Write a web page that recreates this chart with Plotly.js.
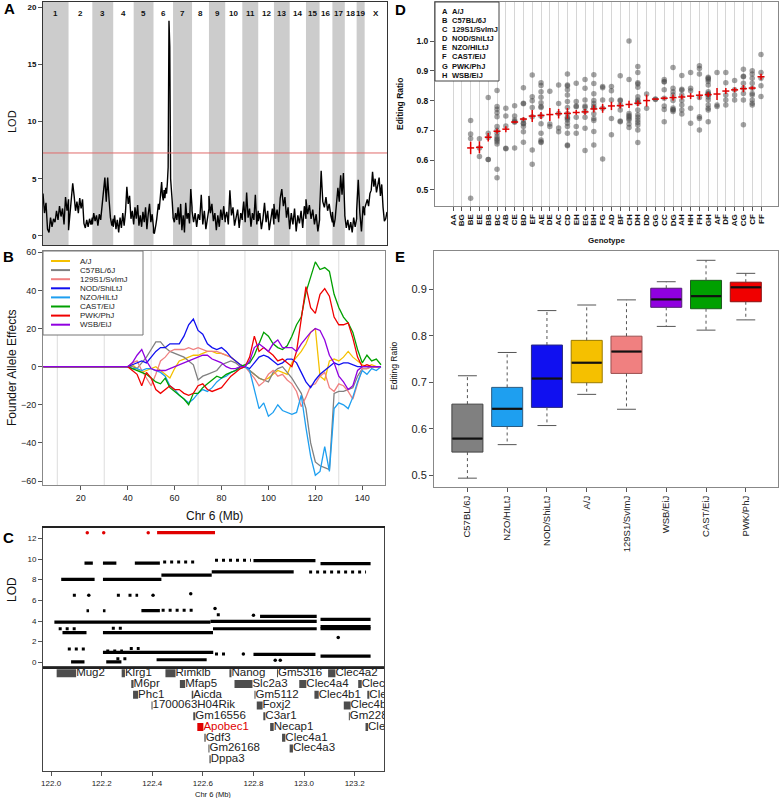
<!DOCTYPE html>
<html>
<head>
<meta charset="utf-8">
<script src="https://cdn.plot.ly/plotly-3.0.1.min.js"></script>
<style>
  html, body { margin: 0; padding: 0; background: #fff; }
  #fig { width: 780px; height: 798px; }
</style>
</head>
<body>
<div id="fig"></div>
<script>
// ---- A: genome scan ----
let chromosomes = ['1', '2', '3', '4', '5', '6', '7', '8', '9', '10', '11', '12', '13', '14', '15', '16', '17', '18', '19', 'X'];
let chrLengthMb = [195.5, 182.1, 160.0, 156.5, 151.8, 149.7, 145.4, 129.4, 124.6, 130.7, 122.1, 120.1, 120.4, 124.9, 104.0, 98.2, 95.0, 90.7, 61.4, 171.0];
let genomeLod = [
    [3.7, 2.0, 2.9, 0.6, 0.3, 1.6, 0.8, 1.5, 1.2, 2.2, 1.4, 2.6, 1.7, 2.4, 1.0, 3.4, 2.2, 3.2],
    [0.5, 2.0, 3.0, 4.6, 3.5, 2.2, 3.0, 2.0, 3.3, 2.4, 3.2, 1.1, 0.7, 1.4, 0.8, 1.5, 1.0, 1.6],
    [1.0, 2.0, 1.3, 1.8, 0.9, 1.9, 1.4, 2.6, 3.5, 5.1, 3.0, 5.1, 3.2, 1.6, 0.9, 1.5],
    [0.8, 1.8, 0.6, 1.4, 0.3, 1.6, 0.7, 2.0, 0.9, 2.1, 4.3, 2.8, 3.5, 1.5, 2.2, 1.4],
    [1.0, 2.5, 1.5, 2.7, 0.9, 1.8, 0.8, 2.1, 1.2, 2.5, 0.6, 1.9, 2.8, 1.2, 1.9, 0.7],
    [0.3, 0.2, 0.5, 1.0, 1.5, 2.2, 2.8, 2.3, 3.4, 3.8, 4.7, 3.5, 3.1, 4.0, 3.3, 4.2, 3.7, 4.6, 6.0, 18.8, 16.5, 5.0, 4.2, 3.0, 1.8],
    [1.6, 1.2, 2.0, 1.4, 2.5, 1.0, 2.8, 0.5, 1.8, 0.3, 2.9, 1.5, 2.0, 1.1, 4.1, 2.5],
    [2.2, 1.2, 2.0, 0.8, 1.9, 1.4, 3.6, 1.0, 2.2, 0.6, 1.6, 2.4],
    [3.5, 2.0, 2.8, 1.3, 2.0, 0.5, 1.8, 0.8, 2.3, 1.4, 2.6, 1.2],
    [1.5, 2.1, 1.0, 4.0, 1.8, 2.5, 0.9, 1.6, 2.3, 0.7, 2.0, 1.4],
    [1.8, 3.0, 1.2, 3.8, 1.6, 2.4, 0.8, 2.0, 1.4, 3.6, 1.0, 2.2],
    [1.3, 2.0, 0.6, 1.5, 2.9, 1.2, 2.2, 0.5, 1.7, 2.4, 1.0],
    [2.8, 1.5, 2.3, 1.2, 3.3, 4.1, 2.6, 3.4, 1.6, 2.5, 1.0],
    [0.6, 2.0, 1.0, 2.4, 0.4, 1.8, 1.1, 2.2, 0.7, 2.6, 1.5],
    [3.2, 1.9, 2.7, 1.5, 2.3, 1.0, 1.9, 0.4, 1.4],
    [2.0, 5.7, 3.0, 2.5, 3.4, 2.2, 2.8, 1.8, 1.2],
    [2.1, 0.8, 1.5, 2.6, 4.2, 3.0, 5.3, 3.6, 5.5, 2.0],
    [1.8, 0.7, 1.4, 0.5, 1.2, 0.3, 1.6, 0.8, 1.5],
    [2.2, 4.9, 2.0, 0.4, 2.6, 1.8],
    [2.4, 2.9, 3.2, 2.6, 3.7, 4.0, 5.6, 4.3, 5.0, 3.8, 4.7, 5.1, 3.5, 4.5, 2.5, 1.3, 1.5, 2.1]
];
let lodThreshold = 7.25;

// ---- B: founder allele effects on chr 6 ----
let founders = ['A/J', 'C57BL/6J', '129S1/SvImJ', 'NOD/ShiLtJ', 'NZO/HILtJ', 'CAST/EiJ', 'PWK/PhJ', 'WSB/EiJ'];
let effectMb = [4, 38, 40, 42, 44, 46, 48, 50, 52, 54, 56, 58, 60, 62, 64, 66, 68, 70, 72, 74, 76, 78, 80, 82, 84, 86, 88, 90, 92, 94, 96, 98,
    100, 102, 104, 106, 108, 110, 112, 114, 116, 118, 120, 122, 124, 126, 128, 130, 132, 134, 136, 138, 140, 142, 144, 146, 148];
let effectAJ = [0, 0, 0, 1, -1, -3, -2, -1, 0, -2, -4, -6, -1, 3, 4, 5, 6, 6, 7, 8, 8, 7, 7, 6, 5, 3, 1, 0, -2, -4, -6, -7,
    -6, -4, -2, -3, -4, 2, 5, 8, 12, 18, 20, -5, -7, 3, 4, 3, 5, 8, 5, 3, 1, 0, 1, 0, 0];
let effectB6 = [0, 0, 0, 0, -1, 2, 5, 9, 13, 13, 10, 8, 7, 6, 5, 3, 1, -7, -5, -4, -3, -2, 1, 2, 3, 2, 0, 0, -2, -4, -6, -7,
    -8, -3, -1, 0, -3, -6, -10, -14, -22, -40, -50, -52, -53, -54, -14, -13, -13, -12, -11, -5, -1, -1, 0, 0, 0];
let effect129 = [0, 0, 0, 2, 3, -2, -6, -10, -4, 3, 5, 8, 9, 9, 9, 10, 9, 10, 9, 8, 8, 8, 7, 6, 5, 3, 1, 0, -3, -6, -10, -8,
    -4, -2, -5, -4, -7, -9, -13, -21, -16, -10, -9, -5, -3, -11, -13, -9, -10, -13, -17, -9, -1, -1, 0, 0, 0];
let effectNOD = [0, 0, 0, 1, 2, 3, 2, 5, 8, 10, 10, 12, 12, 12, 16, 22, 25, 19, 17, 12, 10, 9, 10, 8, 5, 3, 1, 0, -1, 2, 5, 6,
    5, 3, 1, 2, 4, 4, 2, -3, -8, -11, -7, -4, -2, 0, 2, 1, 2, 2, 1, 0, 0, 0, 0, 0, 0];
let effectNZO = [0, 0, 0, -1, -1, -2, -1, -1, -2, -3, -5, -10, -12, -15, -17, -19, -17, -14, -12, -13, -11, -8, -6, -5, -3, -2, -1, 0, -2, -12, -22, -19,
    -26, -24, -20, -23, -24, -25, -24, -15, -32, -47, -57, -55, -42, -55, -22, -19, -20, -22, -16, -8, -2, -4, -1, -2, 0];
let effectCAST = [0, 0, 0, -1, -2, -3, -4, -6, -8, -9, -6, -11, -13, -15, -17, -20, -14, -14, -11, -9, -7, -5, -6, -4, -3, -2, 0, 1, 2, 6, 12, 18,
    16, 12, 10, 9, 11, 16, 22, 26, 39, 47, 55, 51, 52, 50, 38, 31, 26, 23, 18, 9, 2, 6, 3, 4, 1];
let effectPWK = [0, 0, 0, -2, -4, -10, -3, -6, -12, -14, -12, -10, -12, -12, -14, -15, -14, -10, -9, -12, -13, -12, -11, -8, -5, -3, -1, 0, 5, 16, 8, 10,
    8, 6, 3, 4, 2, 0, 8, 25, 42, 31, 28, 38, 41, 37, 26, 22, 22, 23, 15, 5, 0, 1, 0, 0, 0];
let effectWSB = [0, 0, 0, 2, 6, 9, 3, -1, -2, -2, -2, -1, 0, 1, 2, 3, 4, 5, 6, 6, 4, 3, 2, 0, -1, -1, 0, 0, 3, 10, 12, 10,
    8, 12, 14, 10, 10, 10, 8, 12, 15, 18, 20, 19, 14, 6, 2, -5, -8, -12, -10, -2, 0, 0, 0, 0, 0];
let effectGridMb = [10, 30, 50, 70, 90, 110, 130];

// ---- C: SNP association and genes near the peak ----
// [start Mb, end Mb, LOD]
let peakRuns = [[122.419, 122.648, 12.55]];
let peakDots = [[122.143, 12.55], [122.208, 12.55], [122.384, 12.55]];
let denseRuns = [
    [122.040, 122.172, 8.03], [122.205, 122.436, 8.03], [122.436, 122.635, 8.45], [122.635, 122.959, 8.75],
    [122.132, 122.165, 9.6], [122.205, 122.258, 9.6], [122.331, 122.430, 9.6], [122.800, 123.045, 9.85], [123.065, 123.263, 9.55],
    [122.013, 122.630, 3.9], [122.630, 123.050, 3.97], [123.065, 123.263, 4.15],
    [122.045, 122.140, 2.87], [122.205, 122.640, 2.87], [122.640, 123.050, 3.25], [123.065, 123.263, 3.45], [123.065, 123.263, 3.25],
    [122.826, 123.050, 4.45], [122.357, 122.430, 5.0],
    [122.205, 122.641, 0.97], [122.800, 123.045, 0.78], [123.065, 123.263, 0.6],
    [122.417, 122.615, 0.25], [122.079, 122.132, 0.05], [122.218, 122.278, 0.05]
];
let sparseRuns = [
    [122.443, 122.575, 9.7], [122.648, 122.790, 9.88], [123.020, 123.245, 8.75],
    [122.086, 122.105, 6.5], [122.260, 122.278, 6.5], [122.306, 122.344, 6.5],
    [122.437, 122.562, 5.05], [122.140, 122.150, 5.0], [122.205, 122.215, 5.0], [122.655, 122.680, 4.6],
    [122.066, 122.139, 1.3], [122.218, 122.284, 1.1], [122.311, 122.350, 1.35], [122.648, 122.700, 0.8],
    [122.258, 122.311, 0.35], [122.030, 122.110, 3.25], [122.240, 122.285, 3.3]
];
let lodDots = [[122.149, 6.5], [122.403, 6.5], [122.552, 6.65], [122.648, 5.2], [122.800, 4.55], [123.135, 2.4], [122.886, 0.2], [122.906, 0.2], [122.760, 0.8]];

let geneNames = ['Mug2', 'Klrg1', 'Rimklb', 'Nanog', 'Gm5316', 'Clec4a2', 'M6pr', 'Mfap5', 'Slc2a3', 'Clec4a4', 'Clec4n',
    'Phc1', 'Aicda', 'Gm5112', 'Clec4b1', 'Clec4d', '1700063H04Rik', 'Foxj2', 'Clec4b2', 'Gm16556', 'C3ar1', 'Gm22899',
    'Apobec1', 'Necap1', 'Clec4e', 'Gdf3', 'Clec4a1', 'Gm26168', 'Clec4a3', 'Dppa3'];
let geneStart = [122.022, 122.279, 122.452, 122.705, 122.893, 123.095, 122.317, 122.509, 122.725, 122.981, 123.214,
    122.324, 122.556, 122.804, 123.041, 123.250, 122.397, 122.813, 123.157, 122.562, 122.839, 123.177,
    122.578, 122.866, 123.243, 122.606, 122.913, 122.622, 122.943, 122.626];
let geneEnd = [122.099, 122.292, 122.492, 122.713, 122.897, 123.124, 122.326, 122.530, 122.796, 123.009, 123.228,
    122.344, 122.562, 122.808, 123.058, 123.258, 122.401, 122.836, 123.184, 122.570, 122.847, 123.181,
    122.602, 122.880, 123.253, 122.611, 122.926, 122.626, 122.956, 122.631];
let geneRow = [0, 0, 0, 0, 0, 0, 1, 1, 1, 1, 1, 2, 2, 2, 2, 2, 3, 3, 3, 4, 4, 4, 5, 5, 5, 6, 6, 7, 7, 8];
let highlightGene = 'Apobec1';

// ---- D: editing ratio by genotype ----
let founderLetters = ['A', 'B', 'C', 'D', 'E', 'F', 'G', 'H'];
let genotypes = ['AA', 'BG', 'BE', 'EE', 'BB', 'BC', 'AB', 'CE', 'BD', 'EF', 'AE', 'DE', 'AC', 'CD', 'EH', 'EG', 'BH', 'FG',
    'AD', 'BF', 'CH', 'DH', 'DD', 'GG', 'CC', 'DG', 'AH', 'HH', 'FH', 'GH', 'AF', 'DF', 'AG', 'CG', 'CF', 'FF'];
let genotypeRatios = [
    [], [],
    [0.733, 0.688, 0.673, 0.472],
    [0.672, 0.641, 0.612],
    [0.810, 0.690, 0.676, 0.602, 0.602],
    [0.834, 0.780, 0.771, 0.759, 0.746, 0.713, 0.700, 0.690, 0.679, 0.672, 0.668, 0.662, 0.654, 0.569, 0.541],
    [0.774, 0.748, 0.715, 0.640, 0.638],
    [0.783, 0.748, 0.735, 0.730, 0.727, 0.641],
    [0.843, 0.791, 0.789, 0.735, 0.724, 0.722, 0.713, 0.695, 0.660],
    [0.886, 0.813, 0.799, 0.777, 0.746, 0.634, 0.586],
    [0.860, 0.851, 0.830, 0.811, 0.793, 0.780, 0.777, 0.748, 0.722, 0.690, 0.668, 0.662, 0.659],
    [0.831, 0.721, 0.713],
    [0.852, 0.790, 0.757, 0.708, 0.695],
    [0.889, 0.852, 0.849, 0.836, 0.819, 0.797, 0.777, 0.757, 0.744, 0.740, 0.735, 0.724, 0.713, 0.690, 0.651, 0.648],
    [0.858, 0.797, 0.782, 0.779, 0.744, 0.713, 0.690],
    [0.871, 0.841, 0.802, 0.782, 0.778, 0.763, 0.744, 0.707, 0.632],
    [0.887, 0.857, 0.823, 0.800, 0.790, 0.780, 0.775, 0.756, 0.740, 0.733, 0.696, 0.651],
    [0.847, 0.843, 0.802, 0.774, 0.604],
    [0.847, 0.833, 0.802, 0.740, 0.685],
    [0.883, 0.802, 0.799, 0.785, 0.768, 0.731, 0.729],
    [1.000, 0.871, 0.757, 0.750, 0.746, 0.740, 0.735, 0.721, 0.710],
    [0.914, 0.894, 0.860, 0.856, 0.845, 0.813, 0.802, 0.798, 0.791, 0.768, 0.752, 0.744, 0.735, 0.726, 0.718, 0.701, 0.659],
    [0.822, 0.774],
    [0.805, 0.804],
    [0.871, 0.864, 0.862, 0.836, 0.808, 0.782, 0.770, 0.729],
    [0.911, 0.841, 0.830, 0.819, 0.800, 0.775, 0.770, 0.768, 0.763],
    [0.884, 0.838, 0.835, 0.819, 0.800, 0.785, 0.768, 0.755],
    [0.894, 0.841, 0.833, 0.774, 0.724],
    [0.917, 0.908, 0.889, 0.810, 0.746, 0.740, 0.701],
    [0.878, 0.875, 0.871, 0.864, 0.852, 0.830, 0.824, 0.821, 0.819, 0.812, 0.802, 0.785, 0.774, 0.768, 0.729],
    [0.894, 0.785, 0.780],
    [0.894, 0.860, 0.819, 0.802, 0.785],
    [0.867, 0.836, 0.819, 0.802],
    [0.905, 0.882, 0.880, 0.858, 0.841, 0.824, 0.802, 0.719],
    [0.900, 0.889, 0.875, 0.858, 0.841, 0.824, 0.819, 0.802, 0.791, 0.785],
    [0.955, 0.894, 0.875, 0.850, 0.814]
];
let genotypeMean = [null, null, 0.641, 0.643, 0.677, 0.697, 0.704, 0.728, 0.738, 0.748, 0.750, 0.753, 0.756, 0.757, 0.760, 0.762,
    0.772, 0.774, 0.782, 0.783, 0.787, 0.791, 0.800, 0.805, 0.808, 0.810, 0.812, 0.815, 0.818, 0.820, 0.822, 0.832, 0.836, 0.840, 0.842, 0.880];
let genotypeSE = [null, null, 0.021, 0.020, 0.014, 0.008, 0.010, 0.004, 0.006, 0.020, 0.012, 0.022, 0.016, 0.018, 0.008, 0.010,
    0.012, 0.015, 0.014, 0.010, 0.012, 0.010, 0.020, 0.002, 0.005, 0.010, 0.008, 0.010, 0.014, 0.008, 0.020, 0.010, 0.008, 0.012, 0.006, 0.010];

// ---- E: editing ratio by founder strain ----
let boxStrains = ['C57BL/6J', 'NZO/HILtJ', 'NOD/ShiLtJ', 'A/J', '129S1/SvImJ', 'WSB/EiJ', 'CAST/EiJ', 'PWK/PhJ'];
let boxLower = [0.494, 0.566, 0.607, 0.674, 0.642, 0.820, 0.812, 0.834];
let boxQ1 = [0.550, 0.605, 0.646, 0.699, 0.719, 0.861, 0.858, 0.873];
let boxMedian = [0.579, 0.643, 0.708, 0.742, 0.766, 0.878, 0.885, 0.904];
let boxQ3 = [0.653, 0.689, 0.780, 0.790, 0.799, 0.902, 0.919, 0.915];
let boxUpper = [0.714, 0.764, 0.854, 0.866, 0.877, 0.916, 0.962, 0.934];

// ---- styles ----
let founderColor = {
    'A/J': '#F5C000', 'C57BL/6J': '#808080', '129S1/SvImJ': '#F08080', 'NOD/ShiLtJ': '#1010F0',
    'NZO/HILtJ': '#1E9FF0', 'CAST/EiJ': '#00A000', 'PWK/PhJ': '#F00000', 'WSB/EiJ': '#9000E0'
};
let founderEdge = {
    'A/J': '#9a7a00', 'C57BL/6J': '#404040', '129S1/SvImJ': '#9a5050', 'NOD/ShiLtJ': '#2a2a80',
    'NZO/HILtJ': '#2a5a80', 'CAST/EiJ': '#1f5a1f', 'PWK/PhJ': '#8a1010', 'WSB/EiJ': '#502070'
};
let font = 'Liberation Sans, Arial, sans-serif';
let W = 780, H = 798;
function px(v) { return v / W; }
function py(v) { return 1 - v / H; }

let traces = [];
let shapes = [];
let annotations = [];

function note(text, x, y, size, opts) {
    annotations.push(Object.assign({
        text: text, x: px(x), y: py(y), xref: 'paper', yref: 'paper', showarrow: false,
        xanchor: 'center', yanchor: 'middle', font: {family: font, size: size, color: '#111'}
    }, opts || {}));
}

// ---- A ----
let ax = [], ay = [], chrStart = [];
let offset = 0;
for (let c = 0; c < chromosomes.length; c++) {
    let vals = genomeLod[c];
    chrStart.push(offset);
    for (let j = 0; j < vals.length; j++) {
        ax.push(offset + chrLengthMb[c] * j / (vals.length - 1));
        ay.push(vals[j]);
    }
    if (c % 2 == 0)
        shapes.push({type: 'rect', xref: 'x', yref: 'y domain', x0: offset, x1: offset + chrLengthMb[c], y0: 0, y1: 1,
            fillcolor: '#cccccc', line: {width: 0}, layer: 'below'});
    annotations.push({text: chromosomes[c], x: offset + chrLengthMb[c] / 2, y: py(13.5), xref: 'x', yref: 'paper',
        yanchor: 'middle', showarrow: false, font: {family: font, size: 8, color: '#111', weight: 'bold'}});
    offset += chrLengthMb[c];
}
let genomeTotal = offset;
traces.push({x: ax, y: ay, xaxis: 'x', yaxis: 'y', mode: 'lines', line: {color: '#000', width: 1.4}});
shapes.push({type: 'line', xref: 'x domain', yref: 'y', x0: 0, x1: 1, y0: lodThreshold, y1: lodThreshold,
    line: {color: '#e06a6a', width: 1}});

// ---- B ----
let effects = [effectAJ, effectB6, effect129, effectNOD, effectNZO, effectCAST, effectPWK, effectWSB];
for (let i = 0; i < founders.length; i++) {
    traces.push({x: effectMb, y: effects[i], xaxis: 'x2', yaxis: 'y2', mode: 'lines',
        line: {color: founderColor[founders[i]], width: 1.3}});
}
for (let g of effectGridMb)
    shapes.push({type: 'line', xref: 'x2', yref: 'y2 domain', x0: g, x1: g, y0: 0, y1: 1,
        line: {color: '#dddddd', width: 1}, layer: 'below'});
// legend box
shapes.push({type: 'rect', xref: 'paper', yref: 'paper', x0: px(43), x1: px(143), y0: py(335), y1: py(251),
    line: {color: '#777', width: 1}, fillcolor: '#fff'});
for (let i = 0; i < founders.length; i++) {
    let yy = 261 + 9.1 * i;
    shapes.push({type: 'line', xref: 'paper', yref: 'paper', x0: px(51), x1: px(70), y0: py(yy), y1: py(yy),
        line: {color: founderColor[founders[i]], width: 2}});
    note(founders[i], 79, yy, 8, {xanchor: 'left', borderpad: 0, font: {family: font, size: 8, color: '#222'}});
}

// ---- C ----
function runLines(runs) {
    let x = [], y = [];
    for (let r of runs) { x.push(r[0], r[1], null); y.push(r[2], r[2], null); }
    return {x: x, y: y};
}
let dr = runLines(denseRuns);
traces.push({x: dr.x, y: dr.y, xaxis: 'x3', yaxis: 'y3', mode: 'lines', line: {color: '#000', width: 3.2}});
let sr = runLines(sparseRuns);
traces.push({x: sr.x, y: sr.y, xaxis: 'x3', yaxis: 'y3', mode: 'lines', line: {color: '#000', width: 3, dash: '3px,4px'}});
traces.push({x: lodDots.map(d => d[0]), y: lodDots.map(d => d[1]), xaxis: 'x3', yaxis: 'y3', mode: 'markers',
    marker: {color: '#000', size: 3.5}});
let pr = runLines(peakRuns);
traces.push({x: pr.x, y: pr.y, xaxis: 'x3', yaxis: 'y3', mode: 'lines', line: {color: '#e00000', width: 3.2}});
traces.push({x: peakDots.map(d => d[0]), y: peakDots.map(d => d[1]), xaxis: 'x3', yaxis: 'y3', mode: 'markers',
    marker: {color: '#e00000', size: 3.5}});

let geneColors = geneNames.map(g => g == highlightGene ? '#e00000' : '#4d4d4d');
traces.push({type: 'bar', orientation: 'h', base: geneStart, x: geneEnd.map((e, i) => e - geneStart[i]), y: geneRow,
    width: 0.74, xaxis: 'x4', yaxis: 'y4', marker: {color: geneColors, line: {width: 0}}});
traces.push({x: geneEnd, y: geneRow, text: geneNames, mode: 'text', textposition: 'middle right', cliponaxis: true,
    xaxis: 'x4', yaxis: 'y4',
    textfont: {family: font, size: 11.5, color: geneNames.map(g => g == highlightGene ? '#e00000' : '#222')}});

// ---- D ----
let dx = [], dyv = [];
for (let i = 0; i < genotypes.length; i++)
    for (let v of genotypeRatios[i]) { dx.push(i); dyv.push(v); }
traces.push({x: dx, y: dyv, xaxis: 'x5', yaxis: 'y5', mode: 'markers',
    marker: {color: 'rgba(70,70,70,0.5)', size: 5.5}});
traces.push({x: genotypes.map((g, i) => i), y: genotypeMean, xaxis: 'x5', yaxis: 'y5', mode: 'markers',
    marker: {symbol: 'line-ew', size: 5, color: '#e00000', line: {color: '#e00000', width: 1.5}},
    error_y: {type: 'data', array: genotypeSE, visible: true, color: '#e00000', thickness: 1.5, width: 0}});
shapes.push({type: 'rect', xref: 'paper', yref: 'paper', x0: px(435), x1: px(499), y0: py(81), y1: py(2),
    line: {color: '#444', width: 1}, fillcolor: '#fff'});
for (let i = 0; i < founderLetters.length; i++) {
    let yy = 11 + 9.2 * i;
    note(founderLetters[i], 439.5, yy, 7.5, {xanchor: 'left', font: {family: font, size: 7.5, color: '#111', weight: 'bold'}});
    note(founders[i], 450, yy, 7.5, {xanchor: 'left', font: {family: font, size: 7.5, color: '#111', weight: 'bold'}});
}

// ---- E ----
let wx = [], wy = [], cx = [], cy = [];
for (let i = 0; i < boxStrains.length; i++) {
    let s = boxStrains[i];
    traces.push({type: 'box', x: [i], q1: [boxQ1[i]], median: [boxMedian[i]], q3: [boxQ3[i]],
        lowerfence: [boxQ1[i]], upperfence: [boxQ3[i]], width: 0.78, whiskerwidth: 0, boxpoints: false,
        xaxis: 'x6', yaxis: 'y6', fillcolor: founderColor[s], line: {color: founderEdge[s], width: 1}});
    wx.push(i, i, null, i, i, null);
    wy.push(boxQ3[i], boxUpper[i], null, boxQ1[i], boxLower[i], null);
    cx.push(i, i);
    cy.push(boxUpper[i], boxLower[i]);
}
traces.push({x: wx, y: wy, xaxis: 'x6', yaxis: 'y6', mode: 'lines', line: {color: '#555', width: 1, dash: '3px,3px'}});
traces.push({x: cx, y: cy, xaxis: 'x6', yaxis: 'y6', mode: 'markers',
    marker: {symbol: 'line-ew', size: 13.5, line: {color: '#555', width: 1}}});
traces.push({x: boxStrains.map((s, i) => i), y: boxMedian, xaxis: 'x6', yaxis: 'y6', mode: 'markers',
    marker: {symbol: 'line-ew', size: 21.5, line: {color: '#111', width: 2.2}}});

// ---- titles and panel letters ----
note('A', 9, 9, 15, {font: {family: font, size: 15, color: '#000', weight: 'bold'}});
note('B', 8, 257, 15, {font: {family: font, size: 15, color: '#000', weight: 'bold'}});
note('C', 8, 537, 15, {font: {family: font, size: 15, color: '#000', weight: 'bold'}});
note('D', 401, 10, 15, {font: {family: font, size: 15, color: '#000', weight: 'bold'}});
note('E', 400, 257, 15, {font: {family: font, size: 15, color: '#000', weight: 'bold'}});
note('LOD', 12, 122, 11, {textangle: -90});
note('Founder Allele Effects', 12, 368, 12, {textangle: -90});
note('Chr 6 (Mb)', 214, 516, 12);
note('LOD', 12, 590, 12, {textangle: -90});
note('Chr 6 (Mb)', 213, 794, 7.5);
note('Editing Ratio', 400, 104, 8.5, {textangle: -90, font: {family: font, size: 8.5, color: '#111', weight: 'bold'}});
note('Genotype', 606, 241, 8, {font: {family: font, size: 8, color: '#111', weight: 'bold'}});
note('Editing Ratio', 394, 366, 8.5, {textangle: -90});

function box(extra) {
    return Object.assign({showline: true, mirror: true, linecolor: '#555', linewidth: 1, zeroline: false, showgrid: false,
        ticks: 'outside', ticklen: 4, tickcolor: '#555', tickfont: {family: font, size: 9, color: '#222'}}, extra);
}
let boldTick = {family: font, size: 8, color: '#111', weight: 'bold'};

let layout = {
    width: W, height: H, margin: {l: 0, r: 0, t: 0, b: 0},
    paper_bgcolor: '#fff', plot_bgcolor: 'rgba(0,0,0,0)', showlegend: false, boxmode: 'overlay',
    font: {family: font, color: '#222'},
    xaxis: box({domain: [px(43), px(387)], range: [0, genomeTotal], showticklabels: false, ticks: '', linecolor: '#333', anchor: 'y'}),
    yaxis: box({domain: [py(245), py(2)], range: [-0.79, 20.44], tickvals: [0, 5, 10, 15, 20], tickfont: boldTick, linecolor: '#333', anchor: 'x'}),
    xaxis2: box({domain: [px(43), px(385)], range: [3.9, 149.7], tickvals: [20, 40, 60, 80, 100, 120, 140], anchor: 'y2', linecolor: '#888'}),
    yaxis2: box({domain: [py(485), py(251)], range: [-62.1, 60.7], tickvals: [-60, -40, -20, 0, 20, 40, 60], anchor: 'x2', linecolor: '#888'}),
    xaxis3: box({domain: [px(43), px(384)], range: [121.968, 123.316], showticklabels: false, ticks: '', anchor: 'y3', linecolor: '#222', linewidth: 1.3}),
    yaxis3: box({domain: [py(667.3), py(527.7)], range: [-0.48, 13.03], tickvals: [0, 2, 4, 6, 8, 10, 12], anchor: 'x3',
        linecolor: '#444', tickfont: {family: font, size: 8, color: '#222'}}),
    xaxis4: box({domain: [px(43), px(384)], range: [121.968, 123.316], tickvals: [122.0, 122.2, 122.4, 122.6, 122.8, 123.0, 123.2],
        tickformat: '.1f', anchor: 'y4', linecolor: '#444', tickfont: {family: font, size: 8, color: '#222'}}),
    yaxis4: box({domain: [py(771), py(667.3)], range: [9.09, -0.56], showticklabels: false, ticks: '', anchor: 'x4', linecolor: '#444'}),
    xaxis5: box({domain: [px(435), px(778)], range: [-2.05, 36.93], tickvals: genotypes.map((g, i) => i), ticktext: genotypes,
        tickangle: -90, showgrid: true, gridcolor: '#d6d6d6', anchor: 'y5', linecolor: '#888', tickfont: boldTick}),
    yaxis5: box({domain: [py(206), py(2)], range: [0.446, 1.131], tickvals: [0.5, 0.6, 0.7, 0.8, 0.9, 1.0], tickformat: '.1f',
        anchor: 'x5', linecolor: '#888', tickfont: {family: font, size: 8.5, color: '#111', weight: 'bold'}}),
    xaxis6: box({domain: [px(434), px(778)], range: [-0.84, 7.81], tickvals: boxStrains.map((s, i) => i), ticktext: boxStrains,
        tickangle: -90, anchor: 'y6', linecolor: '#888', tickfont: {family: font, size: 9.5, color: '#222'}}),
    yaxis6: box({domain: [py(487), py(251)], range: [0.475, 0.982], tickvals: [0.5, 0.6, 0.7, 0.8, 0.9], tickformat: '.1f',
        anchor: 'x6', linecolor: '#888', tickfont: {family: font, size: 11, color: '#222'}}),
    shapes: shapes,
    annotations: annotations
};

Plotly.newPlot('fig', traces, layout, {staticPlot: true});
</script>
</body>
</html>
